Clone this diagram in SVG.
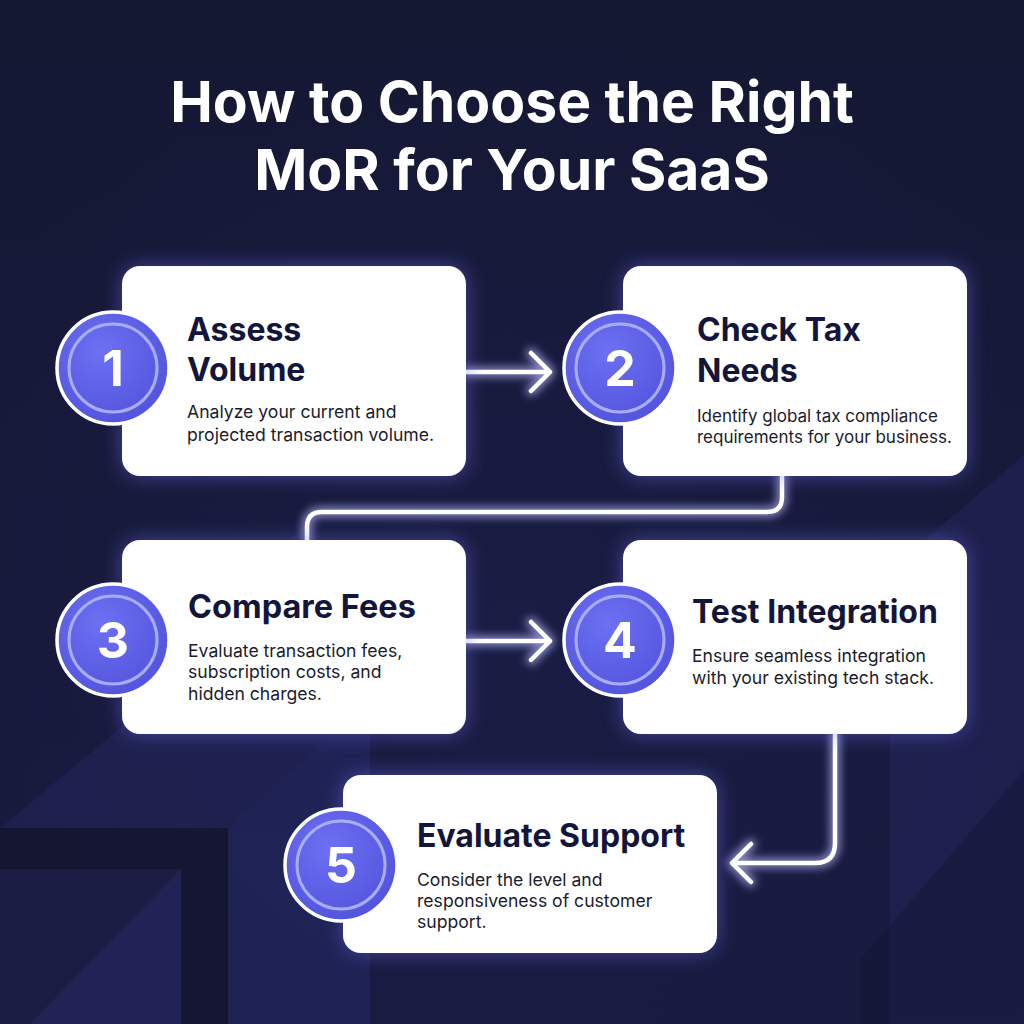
<svg xmlns="http://www.w3.org/2000/svg" width="1024" height="1024" viewBox="0 0 1024 1024">
  <defs>
    <linearGradient id="bg" x1="0" y1="0" x2="0" y2="1">
      <stop offset="0" stop-color="#151833"/>
      <stop offset="0.5" stop-color="#161939"/>
      <stop offset="1" stop-color="#181a3f"/>
    </linearGradient>
    <radialGradient id="vig" cx="0.5" cy="0.6" r="0.6">
      <stop offset="0" stop-color="#2a2c70" stop-opacity="0.18"/>
      <stop offset="1" stop-color="#2a2c70" stop-opacity="0"/>
    </radialGradient>
    <radialGradient id="disc" cx="0.4" cy="0.35" r="0.7">
      <stop offset="0" stop-color="#6d70f2"/>
      <stop offset="1" stop-color="#5154dc"/>
    </radialGradient>
    <filter id="glow" x="-30%" y="-30%" width="160%" height="160%">
      <feGaussianBlur stdDeviation="10"/>
    </filter>
    <filter id="lineglow" x="-20%" y="-50%" width="140%" height="200%">
      <feGaussianBlur stdDeviation="4"/>
    </filter>
    <style>
      .title { font-family: Inter, "Liberation Sans", sans-serif; font-weight: 700; font-size: 57px; fill: #ffffff; text-anchor: middle; }
      .card { fill: #ffffff; }
      .halo { fill: #6f72f6; opacity: 0.5; filter: url(#glow); }
      .head { font-family: Inter, "Liberation Sans", sans-serif; font-weight: 700; font-size: 32px; fill: #13163a; }
      .desc { font-family: Inter, "Liberation Sans", sans-serif; font-weight: 400; font-size: 17.6px; fill: #1a1c2c; }
      .desc2 { font-size: 17px; }
      .disc { fill: url(#disc); stroke: #ffffff; stroke-width: 3.5; }
      .ring { fill: none; stroke: #a9acf8; stroke-width: 3; }
      .num { font-family: Inter, "Liberation Sans", sans-serif; font-weight: 700; font-size: 50px; fill: #ffffff; text-anchor: middle; }
      .conn { fill: none; stroke: #ffffff; stroke-width: 4.5; stroke-linecap: round; stroke-linejoin: round; }
      .connglow { fill: none; stroke: #b8baff; stroke-width: 10; stroke-linecap: round; stroke-linejoin: round; opacity: 0.7; filter: url(#lineglow); }
      .bgshape { fill: #262861; }
      .bgdark { fill: #12142c; }
    </style>
  </defs>

  <!-- background -->
  <rect x="0" y="0" width="1024" height="1024" fill="url(#bg)"/>
  <rect x="0" y="0" width="1024" height="1024" fill="url(#vig)"/>
  <g id="background-shapes">
    <polygon class="bgshape" points="0,828 130,720 370,720 370,1024 228,1024 228,828" opacity="0.45"/>
    <polygon class="bgdark" points="0,828 228,828 228,1024 0,1024" opacity="0.6"/>
    <polygon class="bgshape" points="38,869 181,869 181,1024 0,1024 0,869" opacity="0.4"/>
    <polygon class="bgshape" points="181,869 181,1024 30,1024" opacity="0.55"/>
    <polygon class="bgshape" points="228,828 330,735 370,735 370,1024 228,1024" opacity="0.3"/>
    <polygon class="bgshape" points="1024,455 890,570 890,1024 1024,1024" opacity="0.45"/>
    <polygon class="bgdark" points="1024,770 860,960 860,1024 1024,1024" opacity="0.35"/>
  </g>

  <!-- title -->
  <text class="title" x="512" y="122">How to Choose the Right</text>
  <text class="title" x="512" y="190">MoR for Your SaaS</text>

  <!-- connectors -->
  <g id="connectors">
    <g id="c1-2">
      <path class="connglow" d="M466,372 H550 M531,353 L550,372 L531,391"/>
      <path class="conn" d="M466,372 H550 M531,353 L550,372 L531,391"/>
    </g>
    <g id="c2-3">
      <path class="connglow" d="M782,476 V497 Q782,512 767,512 H322 Q307,512 307,527 V540"/>
      <path class="conn" d="M782,476 V497 Q782,512 767,512 H322 Q307,512 307,527 V540"/>
    </g>
    <g id="c3-4">
      <path class="connglow" d="M466,641 H550 M531,622 L550,641 L531,660"/>
      <path class="conn" d="M466,641 H550 M531,622 L550,641 L531,660"/>
    </g>
    <g id="c4-5">
      <path class="connglow" d="M835,734 V843 Q835,863 815,863 H732 M751,844 L732,863 L751,882"/>
      <path class="conn" d="M835,734 V843 Q835,863 815,863 H732 M751,844 L732,863 L751,882"/>
    </g>
  </g>

  <!-- node 1 -->
  <g id="node1">
    <rect class="halo" x="122" y="266" width="344" height="210" rx="18"/>
    <rect class="card" x="122" y="266" width="344" height="210" rx="18"/>
    <circle class="disc" cx="113" cy="368" r="56"/>
    <circle class="ring" cx="113" cy="368" r="44"/>
    <text class="num" x="113" y="386">1</text>
    <text class="head" x="187" y="341">Assess</text>
    <text class="head" x="187" y="381">Volume</text>
    <text class="desc" x="187" y="418">Analyze your current and</text>
    <text class="desc" x="187" y="441">projected transaction volume.</text>
  </g>

  <!-- node 2 -->
  <g id="node2">
    <rect class="halo" x="623" y="266" width="344" height="210" rx="18"/>
    <rect class="card" x="623" y="266" width="344" height="210" rx="18"/>
    <circle class="disc" cx="620" cy="368" r="56"/>
    <circle class="ring" cx="620" cy="368" r="44"/>
    <text class="num" x="620" y="386">2</text>
    <text class="head" x="697" y="341">Check Tax</text>
    <text class="head" x="697" y="382">Needs</text>
    <text class="desc desc2" x="697" y="422">Identify global tax compliance</text>
    <text class="desc desc2" x="697" y="443">requirements for your business.</text>
  </g>

  <!-- node 3 -->
  <g id="node3">
    <rect class="halo" x="122" y="540" width="344" height="194" rx="18"/>
    <rect class="card" x="122" y="540" width="344" height="194" rx="18"/>
    <circle class="disc" cx="113" cy="640" r="56"/>
    <circle class="ring" cx="113" cy="640" r="44"/>
    <text class="num" x="113" y="658">3</text>
    <text class="head" x="188" y="618" style="font-size:32.5px">Compare Fees</text>
    <text class="desc" x="188" y="657">Evaluate transaction fees,</text>
    <text class="desc" x="188" y="678">subscription costs, and</text>
    <text class="desc" x="188" y="700">hidden charges.</text>
  </g>

  <!-- node 4 -->
  <g id="node4">
    <rect class="halo" x="623" y="540" width="344" height="194" rx="18"/>
    <rect class="card" x="623" y="540" width="344" height="194" rx="18"/>
    <circle class="disc" cx="620" cy="640" r="56"/>
    <circle class="ring" cx="620" cy="640" r="44"/>
    <text class="num" x="620" y="658">4</text>
    <text class="head" x="692" y="623">Test Integration</text>
    <text class="desc" x="692" y="662">Ensure seamless integration</text>
    <text class="desc" x="692" y="684">with your existing tech stack.</text>
  </g>

  <!-- node 5 -->
  <g id="node5">
    <rect class="halo" x="343" y="775" width="374" height="178" rx="18"/>
    <rect class="card" x="343" y="775" width="374" height="178" rx="18"/>
    <circle class="disc" cx="341" cy="865" r="56"/>
    <circle class="ring" cx="341" cy="865" r="44"/>
    <text class="num" x="341" y="883">5</text>
    <text class="head" x="417" y="847">Evaluate Support</text>
    <text class="desc" x="417" y="886">Consider the level and</text>
    <text class="desc" x="417" y="907">responsiveness of customer</text>
    <text class="desc" x="417" y="928">support.</text>
  </g>
</svg>
